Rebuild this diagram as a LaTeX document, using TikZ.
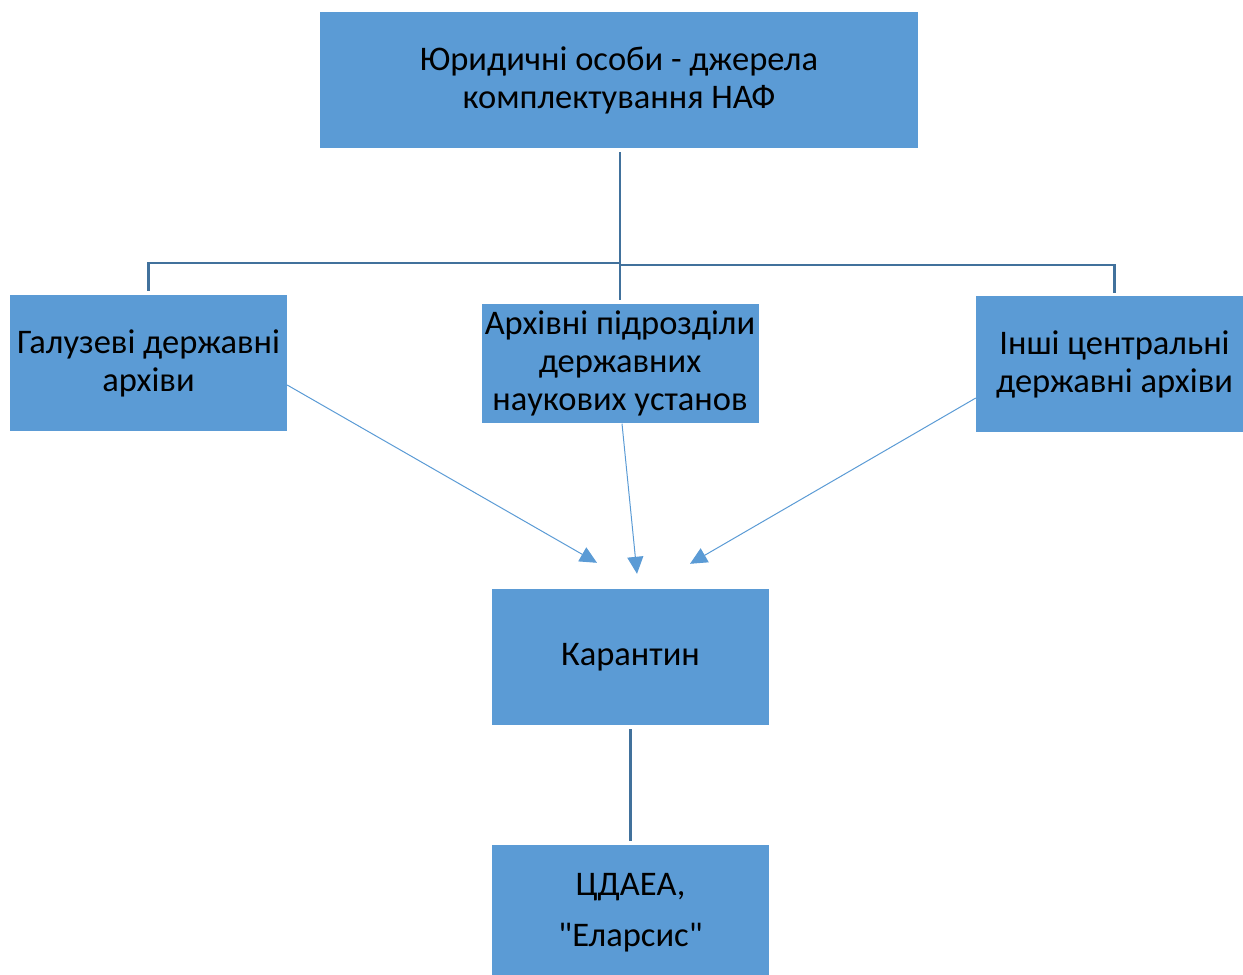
\documentclass[tikz,border=0pt]{standalone}
\usepackage{fontspec}
\setmainfont{Carlito}[Ligatures=TeXOff]
\usetikzlibrary{arrows.meta,calc}
\definecolor{boxblue}{HTML}{5B9BD5}
\definecolor{linkblue}{HTML}{41719C}
\begin{document}
\begin{tikzpicture}[x=1pt,y=-1pt,
  box/.style={fill=boxblue,draw=none,inner sep=0pt,minimum width=277pt,minimum height=136pt,align=center,
    font=\fontsize{34.5}{38}\selectfont,text=black},
  conn/.style={draw=linkblue,line width=2.5pt},
  arr/.style={draw=boxblue,line width=1pt,-{Triangle[length=17pt,width=16pt]}}]
\useasboundingbox (0,0) rectangle (1243,975);
\begin{scope}
\clip (0,0) rectangle (1243,975);
\node[box,minimum width=598pt] (top) at (619,80) {Юридичні особи - джерела\\комплектування НАФ};
\node[box] (left) at (148.5,363) {Галузеві державні\\архіви};
\node[box,minimum height=119pt] (mid) at (620,363.5) {Архівні підрозділи\\державних\\наукових установ};
\node[box] (right) at (1114.5,364) {Інші центральні\\державні архіви};
\node[box] (kar) at (630.5,657) {Карантин};
\node[box] (bot) at (630.5,913) {ЦДАЕА,\\[13pt]"Еларсис"};
\end{scope}
\coordinate (jl) at (620,263);
\coordinate (jr) at (620,265);
\draw[conn] ($(top.south)+(1,4)$) -- ($(mid.north)+(0,-4)$);
\draw[conn] (jl) -| ($(left.north)+(0,-4)$);
\draw[conn] (jr) -| ($(right.north)+(0,-3)$);
\draw[conn] ($(kar.south)+(0,4)$) -- ($(bot.north)+(0,-4)$);
\draw[arr] ($(left.east)+(0,22)$) -- ($(kar.north)+(-33.5,-26)$);
\draw[arr] ($(mid.south)+(2,0.5)$) -- ($(kar.north)+(6.5,-15)$);
\draw[arr] ($(right.west)+(0,34)$) -- ($(kar.north)+(59.5,-25)$);
\end{tikzpicture}
\end{document}
